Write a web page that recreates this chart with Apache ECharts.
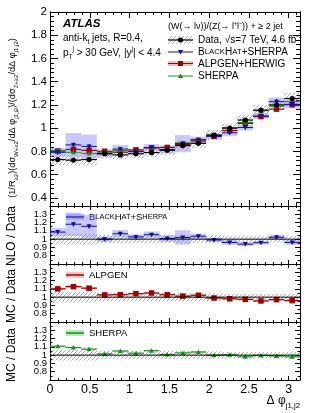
<!DOCTYPE html>
<html><head><meta charset="utf-8">
<script src="https://cdn.jsdelivr.net/npm/echarts@6/dist/echarts.min.js"></script>
<style>html,body{margin:0;padding:0;background:#fff}#c{width:316px;height:413px}</style>
</head><body><div id="c"></div><script>
// ---------- data ----------
const binLo = [0,0.196,0.393,0.589,0.785,0.982,1.178,1.374,1.571,1.767,1.963,2.160,2.356,2.553,2.749,2.945];
const binHi = [0.196,0.393,0.589,0.785,0.982,1.178,1.374,1.571,1.767,1.963,2.160,2.356,2.553,2.749,2.945,3.1416];
const dataVal    = [0.73,0.725,0.73,0.78,0.77,0.78,0.79,0.81,0.85,0.87,0.94,1.0,1.07,1.155,1.2,1.255];
const dataStat   = [0.01,0.01,0.01,0.01,0.01,0.01,0.01,0.01,0.01,0.01,0.01,0.01,0.012,0.012,0.012,0.012];
const dataSystRel= [0.065,0.065,0.065,0.05,0.05,0.05,0.05,0.05,0.05,0.045,0.045,0.04,0.04,0.04,0.04,0.04];
const bhMain  = [0.792,0.856,0.843,0.78,0.82,0.80,0.833,0.816,0.867,0.90,0.93,0.96,1.006,1.105,1.228,1.205];
const alpMain = [0.803,0.817,0.809,0.801,0.793,0.813,0.83,0.834,0.86,0.89,0.93,0.98,1.041,1.10,1.164,1.202];
const sheMain = [0.809,0.792,0.783,0.792,0.809,0.798,0.833,0.816,0.873,0.903,0.94,1.004,1.049,1.15,1.188,1.23];
const bhRatio  = [1.085,1.18,1.155,1.0,1.065,1.027,1.054,1.008,1.02,1.035,0.99,0.96,0.94,0.957,1.023,0.96];
const bhBandRel= [0.048,0.12,0.12,0.033,0.042,0.03,0.036,0.04,0.085,0.03,0.027,0.03,0.025,0.023,0.03,0.03];
const bhStat   = [0.025,0.025,0.025,0.02,0.02,0.02,0.02,0.02,0.02,0.02,0.02,0.02,0.02,0.02,0.02,0.02];
const alpRatio = [1.10,1.127,1.108,1.027,1.03,1.042,1.05,1.03,1.012,1.023,0.99,0.98,0.973,0.954,0.97,0.958];
const alpBandRel=[0.015,0.015,0.015,0.012,0.012,0.012,0.012,0.012,0.012,0.012,0.012,0.012,0.012,0.012,0.012,0.012];
const sheRatio = [1.108,1.092,1.073,1.015,1.05,1.023,1.054,1.008,1.027,1.038,1.0,1.004,0.98,0.996,0.99,0.98];
const sheBandRel=[0.01,0.01,0.01,0.01,0.01,0.01,0.01,0.01,0.01,0.01,0.01,0.01,0.01,0.01,0.01,0.01];
const mainYTicks = [0.4,0.6,0.8,1.0,1.2,1.4,1.6,1.8,2.0];
const ratioYTicks = [0.8,0.9,1.0,1.1,1.2,1.3];
const xTicks = [0,0.5,1,1.5,2,2.5,3];

// ---------- style ----------
const FONT = "'Liberation Sans', Arial, Helvetica, sans-serif";
const BLUE = '#10109a', BLUEBAND = 'rgba(110,110,255,0.38)';
const RED = '#a00000', REDBAND = 'rgba(255,120,120,0.45)';
const GREEN = '#1a8a1a', GREENBAND = 'rgba(90,230,90,0.5)';

function hatchCanvas(){
  const c=document.createElement('canvas');c.width=4;c.height=4;
  const x=c.getContext('2d');x.strokeStyle='#999';x.lineWidth=0.8;
  x.beginPath();x.moveTo(0,4);x.lineTo(4,0);x.moveTo(-1,1);x.lineTo(1,-1);x.moveTo(3,5);x.lineTo(5,3);x.stroke();
  return c;
}
const HATCH = {image: hatchCanvas(), repeat:'repeat'};

function markerShape(kind, x, y, s, color){
  if(kind==='circle') return {type:'circle',shape:{cx:x,cy:y,r:s/2},style:{fill:color}};
  if(kind==='square') return {type:'rect',shape:{x:x-s/2,y:y-s/2,width:s,height:s},style:{fill:color}};
  if(kind==='tdown') return {type:'polygon',shape:{points:[[x-s/2,y-s*0.4],[x+s/2,y-s*0.4],[x,y+s*0.5]]},style:{fill:color}};
  return {type:'polygon',shape:{points:[[x-s/2,y+s*0.4],[x+s/2,y+s*0.4],[x,y-s*0.5]]},style:{fill:color}};
}

function bandRender(fill){
  return function(params, api){
    const a=api.coord([api.value(0), api.value(3)]), b=api.coord([api.value(1), api.value(2)]);
    return {type:'rect',shape:{x:a[0],y:a[1],width:b[0]-a[0],height:b[1]-a[1]},style:{fill:fill}};
  };
}
function markRender(kind, color, size, lw){
  return function(params, api){
    const lo=api.value(0), hi=api.value(1), y=api.value(2);
    const a=api.coord([lo,y]), b=api.coord([hi,y]), c=api.coord([(lo+hi)/2,y]);
    const t=api.coord([(lo+hi)/2,api.value(4)]), d=api.coord([(lo+hi)/2,api.value(3)]);
    return {type:'group',children:[
      {type:'line',shape:{x1:a[0],y1:a[1],x2:b[0],y2:b[1]},style:{stroke:color,lineWidth:lw}},
      {type:'line',shape:{x1:t[0],y1:t[1],x2:d[0],y2:d[1]},style:{stroke:color,lineWidth:lw}},
      markerShape(kind,c[0],c[1],size,color)
    ]};
  };
}
function bandItems(vals, rel){ return vals.map((v,i)=>[binLo[i],binHi[i],v*(1-rel[i]),v*(1+rel[i])]); }
function markItems(vals, err){ return vals.map((v,i)=>[binLo[i],binHi[i],v,v-err[i],v+err[i]]); }
function unitItems(rel){ return rel.map((r,i)=>[binLo[i],binHi[i],1-r,1+r]); }

// ---------- layout ----------
const grids = [
  {left:50, top:12, width:250, height:194},
  {left:50, top:206, width:250, height:58},
  {left:50, top:264, width:250, height:58},
  {left:50, top:322, width:250, height:58}
];
const xAxis=[], yAxis=[], series=[];
const yLeftIdx=[];
grids.forEach((g,gi)=>{
  const isMain = gi===0, last = gi===3;
  const L = isMain?6:4;
  const xBase = {type:'value',gridIndex:gi,min:0,max:3.1416,interval:0.5,
    axisLine:{show:true,onZero:false,lineStyle:{color:'#000',width:1}},
    axisTick:{show:true,inside:true,length:L,lineStyle:{color:'#000'}},
    minorTick:{show:true,splitNumber:5,length:L/2,lineStyle:{color:'#000'}},
    splitLine:{show:false},minorSplitLine:{show:false}};
  xAxis.push(Object.assign({},xBase,{position:'bottom',
    axisLabel:{show:last,showMaxLabel:false,color:'#000',fontSize:12.5,fontFamily:FONT,margin:3,
      formatter:v=>xTicks.indexOf(+v.toFixed(2))>=0?String(+v.toFixed(2)):''}}));
  xAxis.push(Object.assign({},xBase,{position:'top',axisLabel:{show:false}}));
  if(isMain){
    const minor=[]; for(let k=9;k<=49;k++){ const v=+(k*0.04).toFixed(2); if(mainYTicks.indexOf(v)<0) minor.push(v); }
    const yb = {type:'value',gridIndex:0,min:0.33,max:2.0,splitLine:{show:false},
      axisLine:{show:true,onZero:false,lineStyle:{color:'#000'}}};
    yLeftIdx.push(yAxis.length);
    yAxis.push(Object.assign({},yb,{position:'left',
      axisTick:{show:true,inside:true,length:8,customValues:mainYTicks,lineStyle:{color:'#000'}},
      axisLabel:{show:true,customValues:mainYTicks,color:'#000',fontSize:11.5,fontFamily:FONT,margin:3,
        formatter:v=>String(+(+v).toFixed(1))}}));
    yAxis.push(Object.assign({},yb,{position:'left',
      axisTick:{show:true,inside:true,length:4,customValues:minor,lineStyle:{color:'#000'}},axisLabel:{show:false}}));
    yAxis.push(Object.assign({},yb,{position:'right',
      axisTick:{show:true,inside:true,length:7,customValues:mainYTicks,lineStyle:{color:'#000'}},axisLabel:{show:false}}));
    yAxis.push(Object.assign({},yb,{position:'right',
      axisTick:{show:true,inside:true,length:4,customValues:minor,lineStyle:{color:'#000'}},axisLabel:{show:false}}));
  } else {
    const yb = {type:'value',gridIndex:gi,min:0.7,max:1.4,interval:0.1,splitLine:{show:false},
      axisLine:{show:true,onZero:false,lineStyle:{color:'#000'}},
      axisTick:{show:true,inside:true,length:5,lineStyle:{color:'#000'}},
      minorTick:{show:true,splitNumber:2,length:2.5,lineStyle:{color:'#000'}}};
    yLeftIdx.push(yAxis.length);
    yAxis.push(Object.assign({},yb,{position:'left',
      axisLabel:{show:true,showMinLabel:false,showMaxLabel:false,color:'#000',fontSize:9.5,fontFamily:FONT,margin:3,
        formatter:v=>{const r=+(+v).toFixed(1);return ratioYTicks.indexOf(r)>=0?String(r):'';}}}));
    yAxis.push(Object.assign({},yb,{position:'right',axisLabel:{show:false}}));
  }
});

function add(gi, data, render, z){
  series.push({type:'custom',xAxisIndex:gi*2,yAxisIndex:yLeftIdx[gi],data:data,renderItem:render,silent:true,animation:false,z:z||2,
    encode:{x:[0,1],y:[2]}});
}
function refLine(gi){
  series.push({type:'line',xAxisIndex:gi*2,yAxisIndex:yLeftIdx[gi],data:[[0,1],[3.1416,1]],symbol:'none',silent:true,animation:false,
    lineStyle:{color:'#000',width:1},z:2});
}
// main panel
add(0, bandItems(bhMain, bhBandRel), bandRender(BLUEBAND));
add(0, bandItems(dataVal, dataSystRel), bandRender(HATCH));
add(0, markItems(alpMain, alpMain.map(()=>0.006)), markRender('square',RED,5.5,1.2));
add(0, markItems(sheMain, sheMain.map(()=>0.006)), markRender('tup',GREEN,5,1));
add(0, markItems(bhMain, bhMain.map((v,i)=>v*bhStat[i])), markRender('tdown',BLUE,5,1));
add(0, markItems(dataVal, dataStat), markRender('circle','#000',5.2,1.2));
// ratio panels
add(1, unitItems(dataSystRel), bandRender(HATCH));
add(1, bandItems(bhRatio, bhBandRel), bandRender(BLUEBAND));
refLine(1);
add(1, markItems(bhRatio, bhStat), markRender('tdown',BLUE,5,1));
add(2, unitItems(dataSystRel), bandRender(HATCH));
add(2, bandItems(alpRatio, alpBandRel), bandRender(REDBAND));
refLine(2);
add(2, markItems(alpRatio, alpRatio.map(()=>0.008)), markRender('square',RED,5.5,1.2));
add(3, unitItems(dataSystRel), bandRender(HATCH));
add(3, bandItems(sheRatio, sheBandRel), bandRender(GREENBAND));
refLine(3);
add(3, markItems(sheRatio, sheRatio.map(()=>0.008)), markRender('tup',GREEN,5,1));

// ---------- text / legends ----------
const tx = (x,y,text,extra)=>({type:'text',x:x,y:y,silent:true,style:Object.assign({text:text,fill:'#000',fontFamily:FONT,fontSize:10,verticalAlign:'middle'},extra||{})});
const richBase = (fs)=>({n:{fontSize:fs,lineHeight:fs+5,fontFamily:FONT},
  s:{fontSize:fs*0.65,verticalAlign:'bottom',fontFamily:FONT},
  u:{fontSize:fs*0.65,verticalAlign:'top',fontFamily:FONT},
  c:{fontSize:fs*0.78,fontFamily:FONT}});
const graphic = [];
graphic.push(tx(63,24,'ATLAS',{fontSize:11.5,fontWeight:'bold',fontStyle:'italic'}));
graphic.push(tx(63,38,'{n|anti-k}{s|t}{n| jets, R=0.4,}',{rich:richBase(10)}));
graphic.push(tx(63,53,'{n|p}{s|T}{u|j}{n| > 30 GeV, |y}{u|j}{n|| < 4.4}',{rich:richBase(10)}));
graphic.push(tx(168,27,'(W(→ lν))/(Z(→ l⁺l⁻)) + ≥ 2 jet',{fontSize:9}));
// main legend
const LX0=168, LX1=193, LTX=198;
graphic.push({type:'rect',silent:true,shape:{x:LX0,y:36,width:LX1-LX0,height:8},style:{fill:HATCH}});
graphic.push({type:'line',silent:true,shape:{x1:LX0,y1:40,x2:LX1,y2:40},style:{stroke:'#000',lineWidth:1.2}});
graphic.push(Object.assign(markerShape('circle',(LX0+LX1)/2,40,5,'#000'),{silent:true}));
graphic.push(tx(LTX,40,'{n|Data, √s=7 TeV, 4.6 fb}{u|-1}',{rich:richBase(10)}));
graphic.push({type:'line',silent:true,shape:{x1:LX0,y1:52,x2:LX1,y2:52},style:{stroke:BLUE,lineWidth:1}});
graphic.push(Object.assign(markerShape('tdown',(LX0+LX1)/2,52,5,BLUE),{silent:true}));
graphic.push(tx(LTX,52,'{n|B}{c|LACK}{n|H}{c|AT}{n|+SHERPA}',{rich:richBase(10)}));
graphic.push({type:'rect',silent:true,shape:{x:LX0,y:61,width:LX1-LX0,height:5},style:{fill:'rgba(255,140,140,0.6)'}});
graphic.push({type:'line',silent:true,shape:{x1:LX0,y1:63.5,x2:LX1,y2:63.5},style:{stroke:RED,lineWidth:1}});
graphic.push(Object.assign(markerShape('square',(LX0+LX1)/2,63.5,5,RED),{silent:true}));
graphic.push(tx(LTX,64,'ALPGEN+HERWIG'));
graphic.push({type:'line',silent:true,shape:{x1:LX0,y1:76,x2:LX1,y2:76},style:{stroke:GREEN,lineWidth:1}});
graphic.push(Object.assign(markerShape('tup',(LX0+LX1)/2,76,5,GREEN),{silent:true}));
graphic.push(tx(LTX,76,'SHERPA'));
// ratio legends
function ratioLeg(y, band, color, label, rich){
  graphic.push({type:'rect',silent:true,shape:{x:66,y:y-3,width:18,height:6},style:{fill:band}});
  graphic.push({type:'line',silent:true,shape:{x1:66,y1:y,x2:84,y2:y},style:{stroke:color,lineWidth:1.5}});
  graphic.push(tx(89,y,label,rich?{rich:richBase(9.5)}:{fontSize:9.5}));
}
ratioLeg(217, BLUEBAND, BLUE, '{n|B}{c|LACK}{n|H}{c|AT}{n|+S}{c|HERPA}', true);
ratioLeg(275, REDBAND, RED, 'ALPGEN');
ratioLeg(333, GREENBAND, GREEN, 'SHERPA');
// axis titles
const rot = (x,y,text,extra)=>({type:'text',x:x,y:y,rotation:Math.PI/2,silent:true,
  style:Object.assign({text:text,fill:'#000',fontFamily:FONT,fontSize:12,align:'center',verticalAlign:'middle'},extra||{})});
const titleRich = {n:{fontSize:9.2,lineHeight:14,fontFamily:FONT},s:{fontSize:6,verticalAlign:'bottom',fontFamily:FONT}};
graphic.push(rot(12,118,'{n|(1/R}{s|≥2}{n|)(dσ}{s|W+≥2}{n|/dΔ φ}{s|j1,j2}{n|)/(dσ}{s|Z+≥2}{n|/dΔ φ}{s|j1,j2}{n|)}',{rich:titleRich}));
graphic.push(rot(12,236,'NLO / Data'));
graphic.push(rot(12,296,'MC / Data'));
graphic.push(rot(12,355,'MC / Data'));
graphic.push(tx(300,401,'{n|Δ φ}{s|j1,j2}',{align:'right',rich:richBase(12)}));

const chart = echarts.init(document.getElementById('c'), null, {renderer:'canvas'});
chart.setOption({animation:false, backgroundColor:'#fff', grid:grids, xAxis:xAxis, yAxis:yAxis, series:series, graphic:graphic});
</script></body></html>
